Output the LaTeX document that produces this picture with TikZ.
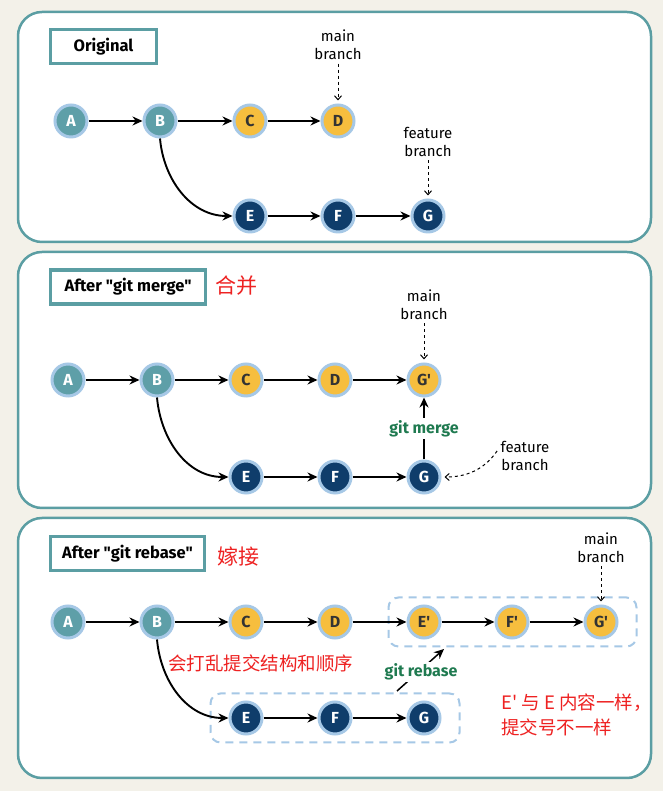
\documentclass[tikz,border=0pt]{standalone}
\usepackage{fontspec}
\setmainfont{Fira Sans}
\newfontfamily\uifont{Fira Sans}
\newfontfamily\cjk{Noto Sans CJK SC}
\usetikzlibrary{arrows.meta,fit}

\definecolor{paper}{HTML}{F3F1E9}
\definecolor{panelteal}{HTML}{5B9EA3}
\definecolor{ringblue}{HTML}{A6C8E6}
\definecolor{baseteal}{HTML}{5E9FA8}
\definecolor{mainyellow}{HTML}{F6BE3E}
\definecolor{featnavy}{HTML}{0F3D6B}
\definecolor{cmdgreen}{HTML}{1F7A50}
\definecolor{notered}{HTML}{EE2222}

\tikzset{
  commit/.style={circle, minimum size=32pt, inner sep=0pt, draw=ringblue,
    line width=3pt, text=white, font=\uifont\bfseries\fontsize{16}{16}\selectfont},
  basec/.style={commit, fill=baseteal},
  mainc/.style={commit, fill=mainyellow, text=black!80},
  featc/.style={commit, fill=featnavy},
  link/.style={-{Stealth[length=10pt,width=9pt]}, line width=1.9pt},
  pointer/.style={-{Straight Barb[length=4pt,width=7pt]}, dashed, line width=1pt,
    shorten >=3pt},
  panel/.style={draw=panelteal, line width=2.5pt, fill=white, rounded corners=24pt},
  titlebox/.style={draw=panelteal, line width=3.5pt, fill=white, minimum height=34pt,
    font=\uifont\bfseries\fontsize{16.5}{17}\selectfont},
  branchlbl/.style={align=center, font=\uifont\fontsize{15}{18.5}\selectfont},
  cmdlbl/.style={fill=white, inner sep=2pt, text=cmdgreen,
    font=\uifont\bfseries\fontsize{16}{16}\selectfont},
  note/.style={text=notered, inner sep=0pt, font=\cjk\fontsize{18.5}{25}\selectfont},
  group/.style={draw=ringblue, line width=2pt, dash pattern=on 8pt off 6pt,
    rounded corners=10pt, inner xsep=18pt, inner ysep=7pt}
}

\begin{document}
\begin{tikzpicture}[x=1pt,y=1pt]
  \useasboundingbox (0,0) rectangle (663,791);
  \fill[paper] (0,0) rectangle (663,791);

  % Original
  \draw[panel] (18,549) rectangle (651,779);
  \node[titlebox, minimum width=106pt] (title1) at (103.5,744.5) {Original};

  \node[basec] (A1) at (71,670) {A};
  \node[basec] (B1) at (160,670) {B};
  \node[mainc] (C1) at (250,670) {C};
  \node[mainc] (D1) at (338,670) {D};
  \node[featc] (E1) at (250,575) {E};
  \node[featc] (F1) at (338,575) {F};
  \node[featc] (G1) at (428,575) {G};

  \node[branchlbl] (main1) at (338,746) {main\\branch};
  \node[branchlbl] (feat1) at (428,649) {feature\\branch};

  \draw[link] (A1) -- (B1);
  \draw[link] (B1) -- (C1);
  \draw[link] (C1) -- (D1);
  \draw[link] (B1.south) to[out=-85, in=180] (E1.west);
  \draw[link] (E1) -- (F1);
  \draw[link] (F1) -- (G1);
  \draw[pointer] (main1) -- (D1);
  \draw[pointer] (feat1) -- (G1);

  % After git merge
  \draw[panel] (18,283) rectangle (651,539);
  \node[titlebox, minimum width=155pt] (title2) at (128,504) {After "git merge"};
  \node[note, font=\cjk\fontsize{21}{21}\selectfont] (merge) at (236,505) {合并};

  \node[basec] (A2) at (68,411) {A};
  \node[basec] (B2) at (157,411) {B};
  \node[mainc] (C2) at (246,411) {C};
  \node[mainc] (D2) at (335,411) {D};
  \node[mainc] (Gm2) at (424,411) {G'};
  \node[featc] (E2) at (246,314) {E};
  \node[featc] (F2) at (335,314) {F};
  \node[featc] (G2) at (424,314) {G};

  \node[branchlbl] (main2) at (424,486.5) {main\\branch};
  \node[branchlbl] (feat2) at (525,335) {feature\\branch};

  \draw[link] (A2) -- (B2);
  \draw[link] (B2) -- (C2);
  \draw[link] (C2) -- (D2);
  \draw[link] (D2) -- (Gm2);
  \draw[link] (B2.south) to[out=-85, in=180] (E2.west);
  \draw[link] (E2) -- (F2);
  \draw[link] (F2) -- (G2);
  \draw[link] (G2) -- node[cmdlbl] {git merge} (Gm2);
  \draw[pointer] (main2) -- (Gm2);
  \draw[pointer] ([yshift=5pt]feat2.west) to[out=235, in=0] (G2.east);

  % After git rebase
  \draw[panel] (18,13) rectangle (651,273);
  \node[titlebox, minimum width=154pt] (title3) at (127.5,237.5) {After "git rebase"};
  \node[note, font=\cjk\fontsize{21}{21}\selectfont] (graft) at (238,234) {嫁接};

  \node[basec] (A3) at (68,169) {A};
  \node[basec] (B3) at (157,169) {B};
  \node[mainc] (C3) at (246,169) {C};
  \node[mainc] (D3) at (335,169) {D};
  \node[mainc] (Er3) at (424,169) {E'};
  \node[mainc] (Fr3) at (512,169) {F'};
  \node[mainc] (Gr3) at (601,169) {G'};
  \node[featc] (E3) at (246,73) {E};
  \node[featc] (F3) at (335,73) {F};
  \node[featc] (G3) at (424,73) {G};

  \node[group, fit=(Er3) (Gr3)] (newgroup) {};
  \node[group, fit=(E3) (G3)] (oldgroup) {};

  \node[branchlbl] (main3) at (601,243.5) {main\\branch};

  \draw[link] (A3) -- (B3);
  \draw[link] (B3) -- (C3);
  \draw[link] (C3) -- (D3);
  \draw[link] (D3) -- (Er3);
  \draw[link] (Er3) -- (Fr3);
  \draw[link] (Fr3) -- (Gr3);
  \draw[link] (B3.south) to[out=-85, in=180] (E3.west);
  \draw[link] (E3) -- (F3);
  \draw[link] (F3) -- (G3);
  \draw[pointer] (main3) -- (Gr3);

  \coordinate (rbfrom) at (397,100);
  \coordinate (rbto) at (444,142);
  \draw[link, line width=1.5pt] (rbfrom) -- (rbto);
  \node[cmdlbl] (rebase) at (421,119) {git rebase};

  \node[note, anchor=west] (scramble) at (168,128) {会打乱提交结构和顺序};
  \node[note, anchor=west, align=left] (same) at (501,76.5) {E' 与 E 内容一样，\\提交号不一样};
\end{tikzpicture}
\end{document}
